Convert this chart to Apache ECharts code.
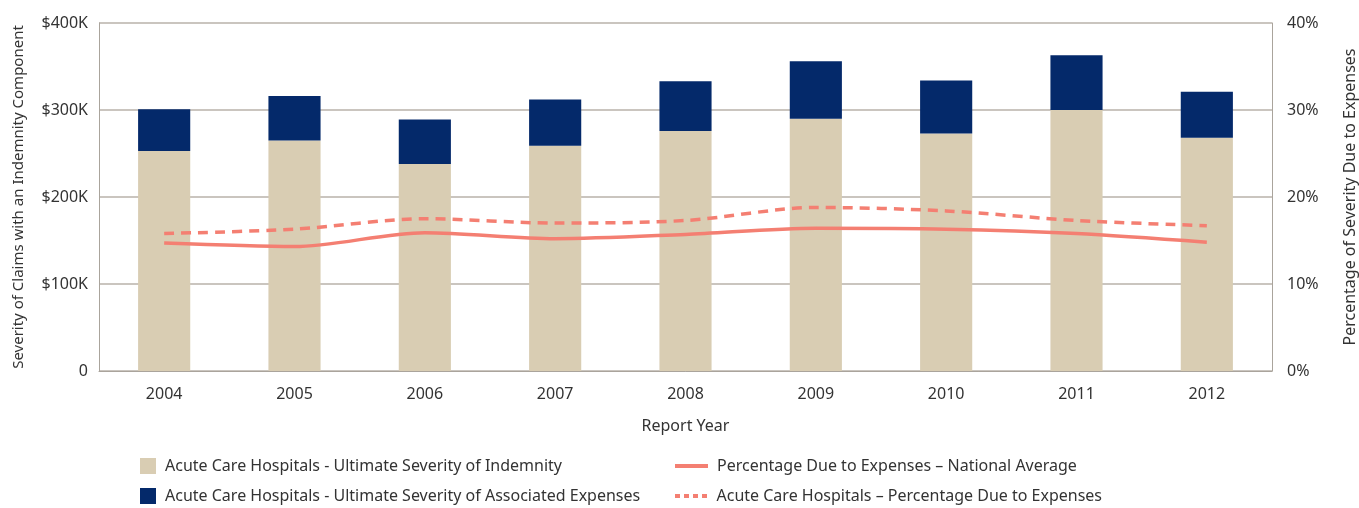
<!DOCTYPE html>
<html>
<head>
<meta charset="utf-8">
<script src="https://cdn.jsdelivr.net/npm/echarts@6/dist/echarts.min.js"></script>
<style>
  html, body { margin: 0; padding: 0; background: #fff; }
  #chart { width: 1359px; height: 508px; }
</style>
</head>
<body>
<div id="chart"></div>
<script>
// report years
const years = ['2004', '2005', '2006', '2007', '2008', '2009', '2010', '2011', '2012']
// severity in $K
const indemnity = [253, 265, 238, 259, 276, 290, 273, 300, 268]
const expenses = [48, 51, 51, 53, 57, 66, 61, 63, 53]
// percentage due to expenses
const nationalPct = [14.7, 14.3, 15.9, 15.2, 15.7, 16.4, 16.3, 15.8, 14.8]
const acutePct = [15.8, 16.3, 17.5, 17.0, 17.3, 18.8, 18.4, 17.3, 16.7]

const names = [
  'Acute Care Hospitals - Ultimate Severity of Indemnity',
  'Acute Care Hospitals - Ultimate Severity of Associated Expenses',
  'Percentage Due to Expenses \u2013 National Average',
  'Acute Care Hospitals \u2013 Percentage Due to Expenses'
]

const font = 'Noto Sans'
const textColor = '#333333'
const axisGray = '#aaa49c'
const beige = '#d9cdb3'
const navy = '#04296a'
const salmon = '#f47f72'

const chart = echarts.init(document.getElementById('chart'))

// one legend per entry so they sit in two columns like the original
function legendAt(name, left, top, opts) {
  return Object.assign({
    data: [name], left: left, top: top,
    selectedMode: false,
    itemGap: 0,
    textStyle: { fontFamily: font, fontSize: 16, color: textColor, padding: [0, 0, 0, 4] }
  }, opts)
}
const squareIcon = { itemWidth: 16, itemHeight: 16, icon: 'rect' }
const solidIcon = { itemWidth: 33, itemHeight: 4, icon: 'rect' }
const dotIcon = {
  itemWidth: 33, itemHeight: 4,
  icon: 'path://M0,0h5v4h-5z M9,0h5v4h-5z M18,0h5v4h-5z M27,0h5v4h-5z'
}

const option = {
  animation: false,
  textStyle: { fontFamily: font },
  grid: { left: 99, right: 87, top: 23, bottom: 137, outerBoundsMode: 'none' },
  legend: [
    legendAt(names[0], 135, 453, squareIcon),
    legendAt(names[1], 135, 483, squareIcon),
    legendAt(names[2], 670, 453, solidIcon),
    legendAt(names[3], 670, 483, dotIcon)
  ],
  xAxis: {
    type: 'category',
    data: years,
    name: 'Report Year',
    nameLocation: 'middle',
    nameGap: 47,
    nameTextStyle: { fontSize: 16, color: textColor },
    axisLine: { lineStyle: { color: axisGray, width: 1 } },
    axisTick: { show: false },
    axisLabel: { fontSize: 16, color: textColor, margin: 15 }
  },
  yAxis: [
    {
      type: 'value',
      min: 0, max: 400, interval: 100,
      name: 'Severity of Claims with an Indemnity Component',
      nameLocation: 'middle',
      nameRotate: 90,
      nameGap: 73,
      nameTextStyle: { fontSize: 15, color: textColor },
      axisLine: { show: true, lineStyle: { color: axisGray } },
      axisTick: { show: false },
      splitLine: { lineStyle: { color: '#b8b2aa', width: 1.5 } },
      axisLabel: {
        fontSize: 16, color: textColor, margin: 11,
        formatter: v => v === 0 ? '0' : '$' + v + 'K'
      }
    },
    {
      type: 'value',
      min: 0, max: 40, interval: 10,
      name: 'Percentage of Severity Due to Expenses',
      nameLocation: 'middle',
      nameRotate: 90,
      nameGap: 70,
      nameTextStyle: { fontSize: 16, color: textColor },
      axisLine: { show: true, lineStyle: { color: axisGray } },
      axisTick: { show: false },
      splitLine: { show: false },
      axisLabel: {
        fontSize: 16, color: textColor, margin: 15,
        formatter: v => v + '%'
      }
    }
  ],
  series: [
    {
      name: names[0], type: 'bar', stack: 'sev', barWidth: '40%',
      itemStyle: { color: beige }, data: indemnity
    },
    {
      name: names[1], type: 'bar', stack: 'sev', barWidth: '40%',
      itemStyle: { color: navy }, data: expenses
    },
    {
      name: names[2], type: 'line', yAxisIndex: 1, symbol: 'none',
      smooth: 0.3,
      lineStyle: { color: salmon, width: 3.5 },
      itemStyle: { color: salmon },
      data: nationalPct
    },
    {
      name: names[3], type: 'line', yAxisIndex: 1, symbol: 'none',
      smooth: 0.3,
      lineStyle: { color: salmon, width: 3.5, type: [10, 7] },
      itemStyle: { color: salmon },
      data: acutePct
    }
  ]
}

chart.setOption(option)
</script>
</body>
</html>
